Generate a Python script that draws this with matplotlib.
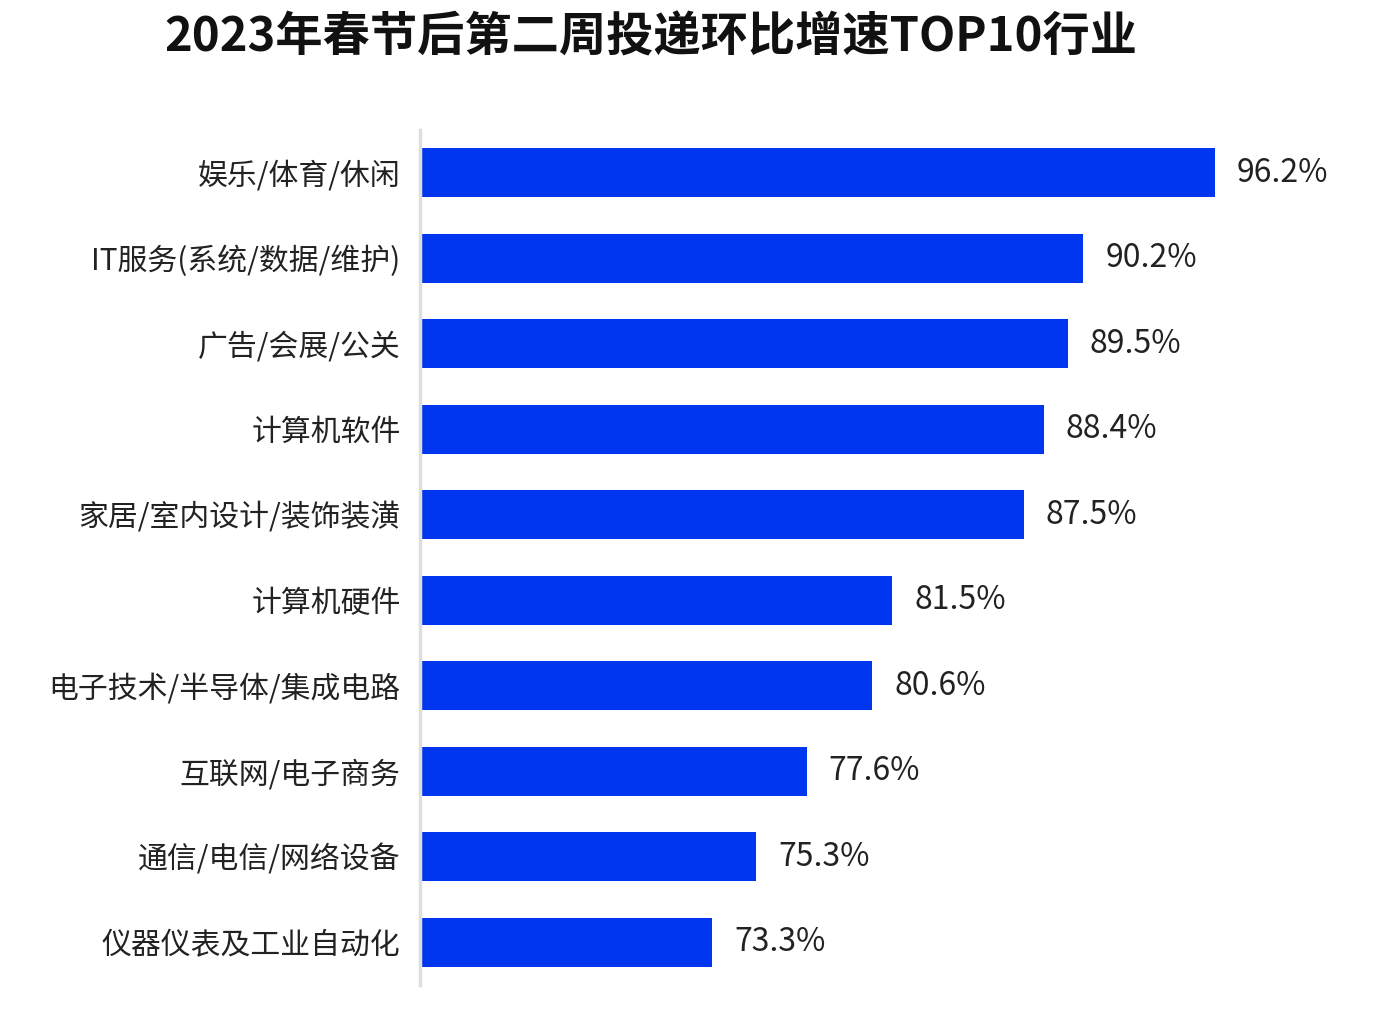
import matplotlib.pyplot as plt

plt.rcParams['font.family'] = ['Noto Sans CJK SC', 'DejaVu Sans']

industries = ['娱乐/体育/休闲', 'IT服务(系统/数据/维护)', '广告/会展/公关', '计算机软件',
              '家居/室内设计/装饰装潢', '计算机硬件', '电子技术/半导体/集成电路',
              '互联网/电子商务', '通信/电信/网络设备', '仪器仪表及工业自动化']
growth = [96.2, 90.2, 89.5, 88.4, 87.5, 81.5, 80.6, 77.6, 75.3, 73.3]

fig = plt.figure(figsize=(13.82, 10.16), dpi=100)
ax = fig.add_axes([420/1382, 1 - 985/1016, 1 - 420/1382, 855/1016])

ypos = range(len(industries))
ax.barh(ypos, growth, height=0.57, color='#0036F0', left=0)
for y, v in zip(ypos, growth):
    ax.text(v + 1.0, y, f'{v}%', va='center', ha='left', fontsize=23, color='#222222')

ax.set_xlim(60, 103.8)
ax.set_ylim(len(industries) - 0.5, -0.5)
ax.set_yticks(list(ypos))
ax.set_yticklabels(industries, fontsize=21.5, color='#222222')
ax.tick_params(axis='y', length=0, pad=14)
ax.set_xticks([])
for s in ['top', 'right', 'bottom']:
    ax.spines[s].set_visible(False)
ax.spines['left'].set_color('#dddddd')
ax.spines['left'].set_linewidth(2.5)

fig.text(651/1382, 1 - 38/1016, '2023年春节后第二周投递环比增速TOP10行业',
         ha='center', va='center', fontsize=34, fontweight='bold', color='#111111')

fig.savefig('out.png', dpi=100)
